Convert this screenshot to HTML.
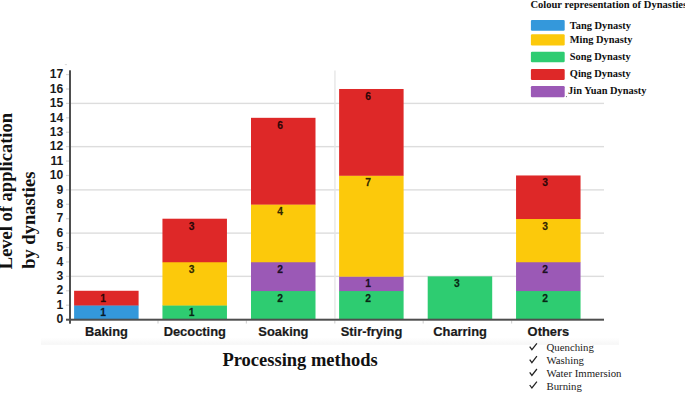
<!DOCTYPE html>
<html><head><meta charset="utf-8"><title>Chart</title>
<style>
html,body{margin:0;padding:0;background:#fff;}
body{width:685px;height:393px;overflow:hidden;position:relative;font-family:"Liberation Sans",sans-serif;}
svg{position:absolute;left:0;top:0;display:block}
.tick{font-family:"Liberation Sans",sans-serif;font-weight:bold;font-size:12.4px;fill:#1a1a1a}
.cat{font-family:"Liberation Sans",sans-serif;font-weight:bold;font-size:12.9px;fill:#1a1a1a;stroke:#1a1a1a;stroke-width:.2px}
.val{font-family:"Liberation Sans",sans-serif;font-weight:bold;font-size:10.3px;fill:#000;fill-opacity:.8;stroke:#000;stroke-width:.3px;stroke-opacity:.6}
.ttl{font-family:"Liberation Serif",serif;font-weight:bold;font-size:18.5px;fill:#111}
.leg{font-family:"Liberation Serif",serif;font-weight:bold;font-size:10.4px;fill:#111}
.legt{font-family:"Liberation Serif",serif;font-weight:bold;font-size:10.55px;fill:#111}
.chk{font-family:"Liberation Serif",serif;font-size:10.8px;fill:#222}
</style></head><body>
<svg width="685" height="393" viewBox="0 0 685 393">
<defs><linearGradient id="band" x1="0" y1="0" x2="0" y2="1"><stop offset="0" stop-color="#ffffff"/><stop offset="1" stop-color="#f6f6f6"/></linearGradient></defs>
<rect x="41" y="337.5" width="578" height="7.3" fill="url(#band)"/>

<rect x="71" y="275.66" width="533" height="1.4" fill="#dddddd"/>
<rect x="71" y="232.42" width="533" height="1.4" fill="#dddddd"/>
<rect x="71" y="189.18" width="533" height="1.4" fill="#dddddd"/>
<rect x="71" y="145.94" width="533" height="1.4" fill="#dddddd"/>
<rect x="71" y="102.71" width="533" height="1.4" fill="#dddddd"/>
<rect x="334.3" y="70.5" width="1.3" height="248" fill="#e4e4e4"/>
<rect x="64.8" y="64.2" width="2.2" height="0.9" fill="#d6d6d6"/>
<rect x="66" y="304.59" width="3.5" height="1.2" fill="#d5d5d5"/>
<rect x="66" y="290.17" width="3.5" height="1.2" fill="#d5d5d5"/>
<rect x="66" y="275.76" width="3.5" height="1.2" fill="#d5d5d5"/>
<rect x="66" y="261.35" width="3.5" height="1.2" fill="#d5d5d5"/>
<rect x="66" y="246.94" width="3.5" height="1.2" fill="#d5d5d5"/>
<rect x="66" y="232.52" width="3.5" height="1.2" fill="#d5d5d5"/>
<rect x="66" y="218.11" width="3.5" height="1.2" fill="#d5d5d5"/>
<rect x="66" y="203.70" width="3.5" height="1.2" fill="#d5d5d5"/>
<rect x="66" y="189.28" width="3.5" height="1.2" fill="#d5d5d5"/>
<rect x="66" y="174.87" width="3.5" height="1.2" fill="#d5d5d5"/>
<rect x="66" y="160.46" width="3.5" height="1.2" fill="#d5d5d5"/>
<rect x="66" y="146.04" width="3.5" height="1.2" fill="#d5d5d5"/>
<rect x="66" y="131.63" width="3.5" height="1.2" fill="#d5d5d5"/>
<rect x="66" y="117.22" width="3.5" height="1.2" fill="#d5d5d5"/>
<rect x="66" y="102.81" width="3.5" height="1.2" fill="#d5d5d5"/>
<rect x="66" y="88.39" width="3.5" height="1.2" fill="#d5d5d5"/>
<rect x="66" y="73.98" width="3.5" height="1.2" fill="#d5d5d5"/>
<rect x="157.40" y="320.5" width="1.2" height="3" fill="#d5d5d5"/>
<rect x="245.80" y="320.5" width="1.2" height="3" fill="#d5d5d5"/>
<rect x="334.20" y="320.5" width="1.2" height="3" fill="#d5d5d5"/>
<rect x="422.60" y="320.5" width="1.2" height="3" fill="#d5d5d5"/>
<rect x="511.00" y="320.5" width="1.2" height="3" fill="#d5d5d5"/>
<rect x="74.1" y="305.19" width="64.5" height="14.71" fill="#3498db"/>
<rect x="74.1" y="290.77" width="64.5" height="14.71" fill="#de2828"/>
<rect x="162.45" y="305.19" width="64.5" height="14.71" fill="#2ecc71"/>
<rect x="162.45" y="261.95" width="64.5" height="43.54" fill="#fcc90b"/>
<rect x="162.45" y="218.71" width="64.5" height="43.54" fill="#de2828"/>
<rect x="251.0" y="290.77" width="64.5" height="29.13" fill="#2ecc71"/>
<rect x="251.0" y="261.95" width="64.5" height="29.13" fill="#9b59b6"/>
<rect x="251.0" y="204.30" width="64.5" height="57.95" fill="#fcc90b"/>
<rect x="251.0" y="117.82" width="64.5" height="86.78" fill="#de2828"/>
<rect x="339.1" y="290.77" width="64.5" height="29.13" fill="#2ecc71"/>
<rect x="339.1" y="276.36" width="64.5" height="14.71" fill="#9b59b6"/>
<rect x="339.1" y="175.47" width="64.5" height="101.19" fill="#fcc90b"/>
<rect x="339.1" y="88.99" width="64.5" height="86.78" fill="#de2828"/>
<rect x="427.7" y="276.36" width="64.5" height="43.54" fill="#2ecc71"/>
<rect x="516.05" y="290.77" width="64.5" height="29.13" fill="#2ecc71"/>
<rect x="516.05" y="261.95" width="64.5" height="29.13" fill="#9b59b6"/>
<rect x="516.05" y="218.71" width="64.5" height="43.54" fill="#fcc90b"/>
<rect x="516.05" y="175.47" width="64.5" height="43.54" fill="#de2828"/>
<rect x="69" y="70.3" width="2" height="253.4" fill="#4e4e4e"/>
<rect x="66" y="318.7" width="538" height="2" fill="#4e4e4e"/>
<text class="val" x="103.1" y="316.09" text-anchor="middle">1</text>
<text class="val" x="103.1" y="301.67" text-anchor="middle">1</text>
<text class="val" x="191.5" y="316.09" text-anchor="middle">1</text>
<text class="val" x="191.5" y="272.85" text-anchor="middle">3</text>
<text class="val" x="191.5" y="229.61" text-anchor="middle">3</text>
<text class="val" x="280.1" y="301.67" text-anchor="middle">2</text>
<text class="val" x="280.1" y="272.85" text-anchor="middle">2</text>
<text class="val" x="280.1" y="215.20" text-anchor="middle">4</text>
<text class="val" x="280.1" y="128.72" text-anchor="middle">6</text>
<text class="val" x="368.2" y="301.67" text-anchor="middle">2</text>
<text class="val" x="368.2" y="287.26" text-anchor="middle">1</text>
<text class="val" x="368.2" y="186.37" text-anchor="middle">7</text>
<text class="val" x="368.2" y="99.89" text-anchor="middle">6</text>
<text class="val" x="456.8" y="287.26" text-anchor="middle">3</text>
<text class="val" x="545.1" y="301.67" text-anchor="middle">2</text>
<text class="val" x="545.1" y="272.85" text-anchor="middle">2</text>
<text class="val" x="545.1" y="229.61" text-anchor="middle">3</text>
<text class="val" x="545.1" y="186.37" text-anchor="middle">3</text>
<text class="tick" transform="translate(63.3,323.30) scale(0.98,1)" text-anchor="end">0</text>
<text class="tick" transform="translate(63.3,308.89) scale(0.98,1)" text-anchor="end">1</text>
<text class="tick" transform="translate(63.3,294.47) scale(0.98,1)" text-anchor="end">2</text>
<text class="tick" transform="translate(63.3,280.06) scale(0.98,1)" text-anchor="end">3</text>
<text class="tick" transform="translate(63.3,265.65) scale(0.98,1)" text-anchor="end">4</text>
<text class="tick" transform="translate(63.3,251.24) scale(0.98,1)" text-anchor="end">5</text>
<text class="tick" transform="translate(63.3,236.82) scale(0.98,1)" text-anchor="end">6</text>
<text class="tick" transform="translate(63.3,222.41) scale(0.98,1)" text-anchor="end">7</text>
<text class="tick" transform="translate(63.3,208.00) scale(0.98,1)" text-anchor="end">8</text>
<text class="tick" transform="translate(63.3,193.58) scale(0.98,1)" text-anchor="end">9</text>
<text class="tick" transform="translate(63.3,179.17) scale(0.98,1)" text-anchor="end">10</text>
<text class="tick" transform="translate(63.3,164.76) scale(0.98,1)" text-anchor="end">11</text>
<text class="tick" transform="translate(63.3,150.34) scale(0.98,1)" text-anchor="end">12</text>
<text class="tick" transform="translate(63.3,135.93) scale(0.98,1)" text-anchor="end">13</text>
<text class="tick" transform="translate(63.3,121.52) scale(0.98,1)" text-anchor="end">14</text>
<text class="tick" transform="translate(63.3,107.11) scale(0.98,1)" text-anchor="end">15</text>
<text class="tick" transform="translate(63.3,92.69) scale(0.98,1)" text-anchor="end">16</text>
<text class="tick" transform="translate(63.3,78.28) scale(0.98,1)" text-anchor="end">17</text>
<text class="cat" x="106.4" y="335.8" text-anchor="middle">Baking</text>
<text class="cat" x="194.8" y="335.8" text-anchor="middle">Decocting</text>
<text class="cat" x="283.4" y="335.8" text-anchor="middle">Soaking</text>
<text class="cat" x="371.5" y="335.8" text-anchor="middle">Stir-frying</text>
<text class="cat" x="460.1" y="335.8" text-anchor="middle">Charring</text>
<text class="cat" x="548.4" y="335.8" text-anchor="middle">Others</text>
<text class="ttl" x="222.4" y="366">Processing methods</text>
<text class="ttl" transform="translate(12.4,269.2) rotate(-90)">Level of application</text>
<text class="ttl" transform="translate(35.0,268.8) rotate(-90)">by dynasties</text>
<text class="legt" x="530.4" y="7.9">Colour representation of Dynasties</text>
<rect x="530.9" y="19.9" width="33.8" height="10.9" rx="1.2" fill="#3498db"/>
<text class="leg" x="569.8" y="28.5">Tang Dynasty</text>
<rect x="530.9" y="34.3" width="33.8" height="11.2" rx="1.2" fill="#fcc90b"/>
<text class="leg" x="569.8" y="43.3">Ming Dynasty</text>
<rect x="530.9" y="51.7" width="33.8" height="10.6" rx="1.2" fill="#2ecc71"/>
<text class="leg" x="569.8" y="60.3">Song Dynasty</text>
<rect x="530.9" y="68.9" width="33.8" height="11.1" rx="1.2" fill="#de2828"/>
<text class="leg" x="569.8" y="77.4">Qing Dynasty</text>
<rect x="530.9" y="86.1" width="33.8" height="11.1" rx="1.2" fill="#9b59b6"/>
<text class="leg" x="568.1" y="94.0">Jin Yuan Dynasty</text>
<circle cx="566.4" cy="96.6" r="0.55" fill="#666"/>
<text class="chk" x="546.5" y="351.3">Quenching</text>
<path d="M529.7 346.7 L531.9 349.7 L536.9 343.3" fill="none" stroke="#222" stroke-width="1.25" stroke-linejoin="miter"/>
<text class="chk" x="546.5" y="364.2">Washing</text>
<path d="M529.7 359.6 L531.9 362.6 L536.9 356.2" fill="none" stroke="#222" stroke-width="1.25" stroke-linejoin="miter"/>
<text class="chk" x="546.5" y="377.0">Water Immersion</text>
<path d="M529.7 372.4 L531.9 375.4 L536.9 369.0" fill="none" stroke="#222" stroke-width="1.25" stroke-linejoin="miter"/>
<text class="chk" x="546.5" y="389.6">Burning</text>
<path d="M529.7 385.0 L531.9 388.0 L536.9 381.6" fill="none" stroke="#222" stroke-width="1.25" stroke-linejoin="miter"/>
</svg></body></html>
